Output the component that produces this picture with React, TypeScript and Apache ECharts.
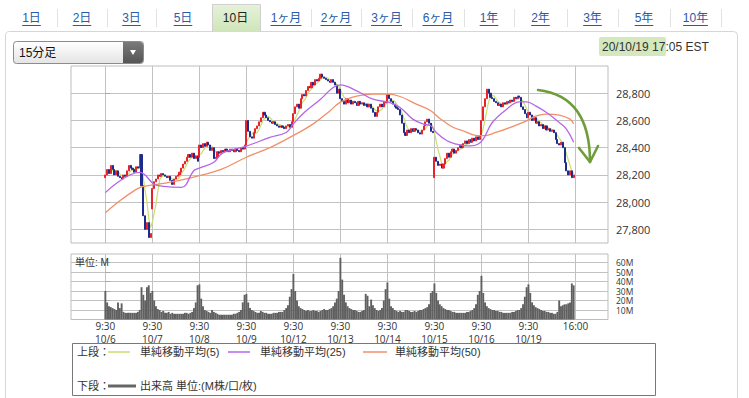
import React, { useEffect, useRef } from 'react';
import * as echarts from 'echarts';

// ---------- data ----------
const days = ['10/6', '10/7', '10/8', '10/9', '10/12', '10/13', '10/14', '10/15', '10/16', '10/19'];
const barsPerDay = 26;
const dayOpen = [28180, 27950, 28330, 28420, 28590, 28830, 28730, 28180, 28490, 28620];

const close106 = [28200, 28240, 28210, 28270, 28240, 28200, 28230, 28190, 28180, 28170, 28200, 28190, 28230, 28270, 28250, 28240, 28220, 28260, 28250, 28350, 28120, 27900, 27800, 27850, 27740, 27770];
const close107 = [28100, 28150, 28170, 28200, 28190, 28210, 28200, 28190, 28180, 28190, 28160, 28130, 28170, 28190, 28200, 28220, 28250, 28280, 28300, 28330, 28350, 28330, 28360, 28320, 28340, 28300];
const close108 = [28420, 28400, 28430, 28410, 28440, 28420, 28380, 28400, 28320, 28330, 28370, 28360, 28380, 28370, 28390, 28380, 28370, 28390, 28380, 28370, 28390, 28380, 28370, 28400, 28390, 28420];
const close109 = [28600, 28520, 28480, 28470, 28510, 28540, 28560, 28590, 28620, 28660, 28640, 28620, 28600, 28590, 28580, 28590, 28570, 28560, 28550, 28560, 28550, 28540, 28560, 28570, 28550, 28590];
const close1012 = [28650, 28700, 28720, 28690, 28760, 28790, 28780, 28820, 28850, 28840, 28880, 28860, 28900, 28890, 28910, 28940, 28920, 28910, 28900, 28890, 28880, 28900, 28880, 28860, 28800, 28830];
const close1013 = [28760, 28740, 28720, 28760, 28730, 28750, 28720, 28740, 28730, 28710, 28740, 28720, 28730, 28710, 28720, 28700, 28720, 28690, 28660, 28630, 28660, 28700, 28720, 28700, 28740, 28730];
const close1014 = [28790, 28760, 28740, 28720, 28700, 28690, 28680, 28640, 28580, 28510, 28490, 28530, 28510, 28540, 28520, 28540, 28530, 28510, 28500, 28530, 28560, 28590, 28610, 28580, 28520, 28510];
const close1015 = [28330, 28300, 28270, 28280, 28250, 28280, 28320, 28360, 28330, 28370, 28390, 28360, 28380, 28400, 28420, 28400, 28430, 28450, 28430, 28460, 28440, 28470, 28450, 28480, 28460, 28490];
const close1016 = [28600, 28700, 28760, 28830, 28800, 28770, 28760, 28740, 28730, 28710, 28720, 28700, 28730, 28720, 28740, 28730, 28750, 28740, 28770, 28760, 28780, 28770, 28700, 28680, 28650, 28620];
const close1019 = [28660, 28640, 28600, 28620, 28580, 28590, 28560, 28570, 28540, 28560, 28530, 28540, 28520, 28530, 28510, 28460, 28430, 28420, 28440, 28400, 28290, 28230, 28200, 28230, 28180, 28200];
const closesByDay = [close106, close107, close108, close109, close1012, close1013, close1014, close1015, close1016, close1019];

// volume, M shares
const vol106 = [30, 18, 14, 13, 12, 11, 10, 18, 12, 17, 8, 7, 7, 7, 7, 7, 7, 7, 8, 10, 34, 26, 20, 34, 36, 28];
const vol107 = [30, 20, 14, 11, 10, 8, 9, 7, 7, 8, 6, 7, 6, 6, 6, 6, 6, 6, 7, 7, 6, 7, 8, 12, 18, 36];
const vol108 = [37, 22, 14, 10, 9, 8, 7, 10, 8, 7, 6, 5, 5, 5, 5, 5, 5, 5, 5, 6, 6, 7, 8, 10, 18, 26];
const vol109 = [27, 18, 12, 10, 9, 8, 7, 7, 9, 8, 7, 7, 6, 6, 6, 7, 7, 7, 8, 8, 8, 10, 12, 15, 24, 32];
const vol1012 = [48, 30, 20, 14, 12, 11, 10, 9, 10, 9, 9, 10, 9, 9, 8, 9, 10, 11, 10, 10, 11, 12, 14, 18, 22, 30];
const vol1013 = [65, 42, 26, 18, 14, 12, 11, 10, 10, 9, 8, 8, 9, 10, 27, 25, 14, 21, 15, 12, 10, 9, 10, 12, 20, 32];
const vol1014 = [39, 22, 14, 12, 10, 9, 8, 9, 8, 8, 10, 10, 9, 8, 8, 9, 8, 9, 10, 10, 11, 12, 13, 16, 28, 30];
const vol1015 = [38, 28, 20, 16, 14, 12, 11, 10, 10, 9, 8, 8, 7, 7, 7, 7, 7, 7, 8, 8, 9, 10, 12, 16, 26, 30];
const vol1016 = [46, 28, 18, 14, 12, 11, 10, 10, 9, 9, 8, 8, 7, 7, 7, 7, 7, 8, 8, 9, 10, 10, 12, 16, 24, 34];
const vol1019 = [37, 28, 18, 15, 13, 12, 11, 10, 9, 9, 8, 8, 7, 7, 6, 6, 8, 20, 14, 15, 16, 16, 17, 18, 38, 36];
const volByDay = [vol106, vol107, vol108, vol109, vol1012, vol1013, vol1014, vol1015, vol1016, vol1019];

// moving averages: [bar index, value]
const ma25Points = [
  [0, 28070], [19, 28218], [27, 28132], [31, 28118], [42, 28108], [49, 28232], [52, 28250], [60, 28293], [65, 28362],
  [78, 28412], [91, 28475], [100, 28512], [104, 28575], [110, 28658], [119, 28756], [126, 28842], [130, 28862],
  [139, 28817], [148, 28756], [157, 28732], [163, 28695], [170, 28610], [176, 28573], [180, 28561], [183, 28512],
  [189, 28451], [194, 28427], [198, 28415], [202, 28413], [206, 28425], [209, 28463], [214, 28585], [222, 28683],
  [229, 28737], [233, 28737], [238, 28707], [244, 28658], [251, 28585], [255, 28537], [259, 28440],
];
const ma50Points = [
  [0, 27922], [8, 28010], [16, 28085], [20, 28112], [27, 28128], [34, 28142], [43, 28165], [52, 28195], [64, 28240],
  [78, 28330], [91, 28400], [104, 28490], [115, 28575], [124, 28668], [130, 28735], [139, 28778], [148, 28793],
  [156, 28793], [163, 28776], [172, 28720], [180, 28671], [185, 28615], [192, 28552], [199, 28518], [204, 28492],
  [209, 28488], [216, 28512], [224, 28549], [233, 28597], [238, 28632], [244, 28646], [251, 28639], [257, 28610], [259, 28575],
];

const priceTicks = [27800, 28000, 28200, 28400, 28600, 28800];
const volTicks = [10, 20, 30, 40, 50, 60];
const tabs = ['1日', '2日', '3日', '5日', '10日', '1ヶ月', '2ヶ月', '3ヶ月', '6ヶ月', '1年', '2年', '3年', '5年', '10年'];
const activeTab = '10日';
const legendTop = ['単純移動平均(5)', '単純移動平均(25)', '単純移動平均(50)'];
const legendBottom = '出来高 単位:(M株/口/枚)';
const intervalLabel = '15分足';
const stampDate = '20/10/19';
const stampTime = '17:05 EST';

// ---------- build ----------
const candles: number[][] = [];
const closes: number[] = [];
let prevClose = 0;
closesByDay.forEach((dc, d) => {
  dc.forEach((c, i) => {
    const o = i === 0 ? dayOpen[d] : prevClose;
    const idx = d * barsPerDay + i;
    candles.push([idx, o, c, Math.min(o, c), Math.max(o, c)]);
    closes.push(c);
    prevClose = c;
  });
});
const ma5 = closes.map((_, k) => {
  const s = closes.slice(Math.max(0, k - 4), k + 1);
  return [k, s.reduce((a, b) => a + b, 0) / s.length];
});
const volumes: number[][] = [];
volByDay.forEach((dv, d) => dv.forEach((v, i) => volumes.push([d * barsPerDay + i, v])));

const dayStarts = days.map((_, d) => d * barsPerDay);
const endTick = days.length * barsPerDay;
const xTicks = [...dayStarts, endTick];

const CJK = "'Liberation Sans', 'Noto Sans CJK JP', sans-serif";
const AX = "'Open Sans', 'Noto Sans CJK JP', sans-serif";

function buildGraphics() {
  const g: any[] = [];
  // outer panel
  g.push({ type: 'rect', shape: { x: 5.5, y: 31.5, width: 732, height: 380, r: 4 }, style: { fill: '#fff', stroke: '#d6d6d6', lineWidth: 1 }, silent: true, z: -10 });
  // tabs
  const bounds = [6, 57, 107, 156, 210, 261, 311, 361, 412, 464, 514, 567, 618, 670, 721];
  tabs.forEach((t, i) => {
    const cx = (bounds[i] + bounds[i + 1]) / 2;
    const active = t === activeTab;
    if (active) {
      g.push({ type: 'rect', shape: { x: bounds[i] + 2, y: 4, width: bounds[i + 1] - bounds[i] - 3, height: 28 }, style: { fill: new echarts.graphic.LinearGradient(0, 0, 0, 1, [{ offset: 0, color: '#e6f2da' }, { offset: 1, color: '#cfe5b9' }]) }, silent: true, z: -5 });
      g.push({ type: 'polyline', shape: { points: [[bounds[i] + 2.5, 32], [bounds[i] + 2.5, 4.5], [bounds[i + 1] - 0.5, 4.5], [bounds[i + 1] - 0.5, 32]] }, style: { stroke: '#cfcfcf', lineWidth: 1, fill: null }, silent: true, z: -4 });
    }
    g.push({ type: 'text', x: cx, y: 18, style: { text: t, fill: active ? '#222' : '#2a5aa8', fontSize: 12, fontFamily: CJK, align: 'center', verticalAlign: 'middle' }, silent: true });
    if (!active) {
      const tw = t.replace(/[^\x00-\x7f]/g, 'xx').length * 6.2;
      g.push({ type: 'line', shape: { x1: cx - tw / 2, y1: 25.5, x2: cx + tw / 2, y2: 25.5 }, style: { stroke: '#2a5aa8', lineWidth: 1 }, silent: true });
    }
    if (i > 0 && tabs[i - 1] !== activeTab && !active) {
      g.push({ type: 'line', shape: { x1: bounds[i] + 0.5, y1: 9, x2: bounds[i] + 0.5, y2: 27 }, style: { stroke: '#e2e2e2', lineWidth: 1 }, silent: true });
    }
  });
  g.push({ type: 'line', shape: { x1: bounds[tabs.length] + 0.5, y1: 9, x2: bounds[tabs.length] + 0.5, y2: 27 }, style: { stroke: '#e2e2e2', lineWidth: 1 }, silent: true });

  // dropdown
  g.push({ type: 'rect', shape: { x: 13.5, y: 41.5, width: 130, height: 22, r: 3 }, style: { fill: new echarts.graphic.LinearGradient(0, 0, 0, 1, [{ offset: 0, color: '#ffffff' }, { offset: 1, color: '#e4e4e4' }]), stroke: '#8c8c8c', lineWidth: 1 }, silent: true });
  g.push({ type: 'rect', shape: { x: 123, y: 42, width: 20, height: 21, r: [0, 3, 3, 0] }, style: { fill: new echarts.graphic.LinearGradient(0, 0, 0, 1, [{ offset: 0, color: '#7a7a7a' }, { offset: 1, color: '#555' }]) }, silent: true });
  g.push({ type: 'polygon', shape: { points: [[130, 50], [136, 50], [133, 55]] }, style: { fill: '#fff' }, silent: true });
  g.push({ type: 'text', x: 19, y: 53, style: { text: intervalLabel, fill: '#111', fontSize: 12, fontFamily: CJK, verticalAlign: 'middle' }, silent: true });

  // timestamp
  g.push({ type: 'rect', shape: { x: 599, y: 37, width: 67, height: 19, r: 2 }, style: { fill: '#d3e8bd' }, silent: true });
  g.push({ type: 'text', x: 602, y: 46.5, style: { text: stampDate + ' ' + stampTime, fill: '#333', fontSize: 12, fontFamily: CJK, verticalAlign: 'middle' }, silent: true });

  // volume unit
  g.push({ type: 'text', x: 75, y: 262, style: { text: '単位: M', fill: '#333', fontSize: 10, fontFamily: CJK, verticalAlign: 'middle' }, silent: true, z: 10 });

  // annotation arrow
  g.push({ type: 'bezierCurve', shape: { x1: 538, y1: 90, cpx1: 590, cpy1: 96, x2: 590, y2: 162 }, style: { stroke: '#6e9d3a', lineWidth: 2.6, fill: null, lineCap: 'round' }, silent: true, z: 20 });
  g.push({ type: 'polyline', shape: { points: [[579, 148], [590, 162], [598, 146]] }, style: { stroke: '#6e9d3a', lineWidth: 2.6, fill: null, lineCap: 'round', lineJoin: 'round' }, silent: true, z: 20 });

  // legend box
  g.push({ type: 'rect', shape: { x: 72.5, y: 343.5, width: 583, height: 52 }, style: { fill: '#fff', stroke: '#777', lineWidth: 1 }, silent: true });
  const lt = (x: number, y: number, text: string) => ({ type: 'text', x, y, style: { text, fill: '#333', fontSize: 11, fontFamily: CJK, verticalAlign: 'middle' }, silent: true });
  const ll = (x1: number, x2: number, y: number, color: string, w: number) => ({ type: 'line', shape: { x1, y1: y, x2, y2: y }, style: { stroke: color, lineWidth: w }, silent: true });
  g.push(lt(77, 352, '上段：'));
  g.push(ll(108, 130, 352, '#c8df6e', 1.5));
  g.push(lt(140, 352, legendTop[0]));
  g.push(ll(228, 250, 352, '#b466e8', 1.5));
  g.push(lt(260, 352, legendTop[1]));
  g.push(ll(363, 387, 352, '#f0906a', 1.5));
  g.push(lt(395, 352, legendTop[2]));
  g.push(lt(77, 386, '下段：'));
  g.push(ll(108, 136, 386, '#666', 3));
  g.push(lt(140, 386, legendBottom));
  return g;
}

export default function App() {
  const ref = useRef<HTMLDivElement>(null);
  useEffect(() => {
    if (!ref.current) return;
    const chart = echarts.init(ref.current, undefined, { renderer: 'svg' });
    const splitColor = '#c2c2c2';
    chart.setOption({
      animation: false,
      backgroundColor: '#fff',
      grid: [
        { left: 71, top: 66, width: 537, height: 177, show: true, borderColor: '#bdbdbd', borderWidth: 1, backgroundColor: 'transparent' },
        { left: 71, top: 254, width: 537, height: 65.5, show: true, borderColor: '#bdbdbd', borderWidth: 1, backgroundColor: 'transparent' },
      ],
      xAxis: [
        {
          type: 'value', gridIndex: 0, min: -19, max: 278,
          axisLine: { show: false }, axisTick: { show: false, customValues: xTicks },
          axisLabel: { show: false, customValues: xTicks },
          splitLine: { show: true, lineStyle: { color: splitColor, width: 1 } },
        },
        {
          type: 'value', gridIndex: 1, min: -19, max: 278,
          axisLine: { show: false }, axisTick: { show: false, customValues: xTicks },
          axisLabel: {
            customValues: xTicks, margin: 0, fontSize: 10, lineHeight: 13, color: '#333', fontFamily: AX,
            formatter: (v: number) => (v === endTick ? '16:00' : '9:30\n' + days[Math.round(v / barsPerDay)]),
          },
          splitLine: { show: true, lineStyle: { color: splitColor, width: 1 } },
        },
      ],
      yAxis: [
        {
          type: 'value', gridIndex: 0, position: 'right', min: 27700, max: 29000,
          axisLine: { show: false },
          axisTick: { show: true, length: 5, lineStyle: { color: '#aaa' }, customValues: priceTicks },
          axisLabel: { customValues: priceTicks, margin: 8, fontSize: 11, color: '#333', fontFamily: AX, formatter: (v: number) => v.toLocaleString('en-US') },
          splitLine: { show: true, lineStyle: { color: splitColor, width: 1 } },
        },
        {
          type: 'value', gridIndex: 1, position: 'right', min: 0, max: 69,
          axisLine: { show: false },
          axisTick: { show: true, length: 5, lineStyle: { color: '#aaa' }, customValues: volTicks },
          axisLabel: { customValues: volTicks, hideOverlap: false, margin: 8, fontSize: 8.5, lineHeight: 8.5, color: '#333', fontFamily: AX, formatter: (v: number) => v + 'M' },
          splitLine: { show: true, lineStyle: { color: splitColor, width: 1 } },
        },
      ],
      series: [
        { type: 'line', name: 'MA5', xAxisIndex: 0, yAxisIndex: 0, data: ma5, showSymbol: false, symbol: 'none', lineStyle: { color: '#c8df6e', width: 1.2 }, z: 2 },
        {
          type: 'candlestick', xAxisIndex: 0, yAxisIndex: 0, data: candles, barWidth: 1.6,
          itemStyle: { color: '#e8232d', color0: '#1d2c8c', borderColor: '#e8232d', borderColor0: '#1d2c8c', borderWidth: 1 }, z: 3,
        },
        { type: 'line', name: 'MA50', xAxisIndex: 0, yAxisIndex: 0, data: ma50Points, smooth: 0.4, showSymbol: false, symbol: 'none', lineStyle: { color: '#f0906a', width: 1.3 }, z: 4 },
        { type: 'line', name: 'MA25', xAxisIndex: 0, yAxisIndex: 0, data: ma25Points, smooth: 0.4, showSymbol: false, symbol: 'none', lineStyle: { color: '#b466e8', width: 1.3 }, z: 4 },
        { type: 'bar', xAxisIndex: 1, yAxisIndex: 1, data: volumes, barWidth: 1.9, itemStyle: { color: '#606060' } },
      ],
      graphic: buildGraphics(),
    });
    return () => chart.dispose();
  }, []);
  return <div ref={ref} style={{ position: 'fixed', left: 0, top: 0, width: 749, height: 398 }} />;
}
